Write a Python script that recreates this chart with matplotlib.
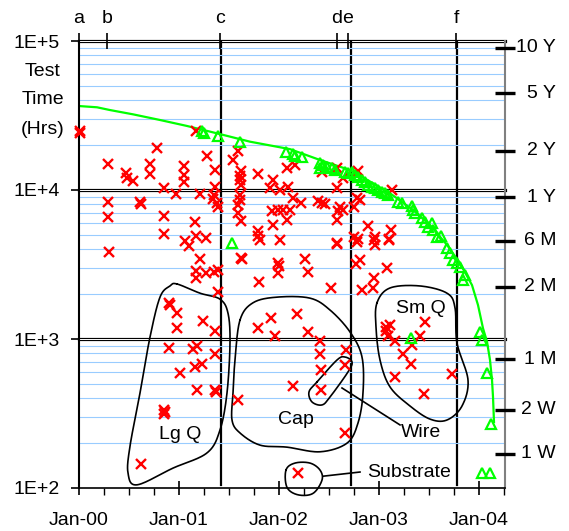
import numpy as np
import matplotlib
matplotlib.use('Agg')
import matplotlib.pyplot as plt
import matplotlib.transforms as mtransforms
from matplotlib.ticker import LogLocator, MultipleLocator, NullFormatter, NullLocator

plt.rcParams['font.family'] = ['Liberation Sans', 'DejaVu Sans']

# x values are years since Jan-00, y values are test hours

# failed parts (red x)
fail_years = [
  0.01, 0.01, 0.29, 0.47, 0.48, 0.54, 0.71, 0.71, 0.78, 0.85,
  0.97, 1.05, 1.05, 1.05, 1.17, 1.21, 1.28, 0.29, 0.61, 0.62,
  0.29, 0.85, 1.16, 0.85, 1.17, 1.27, 1.06, 1.10, 0.30, 1.21,
  1.36, 1.36, 1.35, 1.34, 1.38, 1.39, 1.59, 1.54, 1.62, 1.61,
  1.61, 1.62, 1.61, 1.61, 1.59, 1.59, 1.62, 1.79, 1.94, 1.91,
  2.01, 2.09, 2.08, 2.16, 2.14, 2.22, 2.39, 1.93, 1.99, 2.04,
  2.11, 1.94, 2.08, 1.79, 1.79, 1.81, 2.01, 1.17, 1.27, 1.17,
  1.35, 1.39, 1.39, 1.62, 1.63, 1.99, 2.00, 1.99, 1.80, 2.26,
  2.29, 2.52, 2.58, 2.78, 2.95, 2.96, 3.10, 2.81, 2.77, 3.08,
  2.95, 2.94, 2.83, 2.43, 2.58, 2.64, 2.79, 2.58, 2.43, 2.46,
  2.61, 2.64, 2.59, 2.58, 2.78, 2.81, 2.75, 2.89, 3.12, 2.96,
  3.10, 2.75, 2.79, 2.58, 3.13,
  0.90, 0.91, 0.98, 0.98, 1.24, 1.36, 0.90, 1.14, 1.18, 1.36,
  1.16, 1.23, 1.01, 1.18, 1.36, 1.37, 0.85, 0.86, 0.85, 0.62,
  1.79, 1.92, 1.96, 1.59, 2.18, 2.29, 2.41, 2.41, 2.42, 2.42,
  2.14, 2.67, 2.66, 2.66, 2.19,
  3.07, 3.11, 3.07, 3.09, 3.16, 3.46, 3.41, 3.33, 3.24, 3.32,
  3.16, 3.45, 3.73,
]
fail_hours = [
  24900, 24200, 14950, 12980, 12020, 11490, 14950, 12790, 19180, 10310,
  9400, 14490, 12590, 11320, 24900, 9400, 16910, 8310, 8310, 8060,
  6590, 6690, 6100, 5070, 4910, 4760, 4550, 4210, 3840, 3450,
  13600, 10470, 9260, 8700, 8180, 7690, 18270, 15900, 13390, 12400,
  11670, 10800, 9260, 8570, 7930, 7010, 6190, 12790, 11670, 10310,
  10000, 10470, 14050, 14720, 8840, 8180, 8440, 7230, 7340, 7340,
  7340, 5820, 6290, 5310, 4910, 4620, 4620, 2860, 2770, 2560,
  2810, 2900, 2070, 3500, 3440, 3240, 3090, 2770, 2410, 3450,
  2810, 2200, 4340, 4480, 4620, 4280, 4620, 3390, 3190, 3000,
  2560, 2200, 2130, 13190, 14050, 12020, 13390, 10310, 8180, 8060,
  7690, 7340, 7230, 6290, 8840, 8570, 7690, 5730, 5390, 4840,
  4690, 4840, 4690, 4410, 10000,
  1750, 1690, 1490, 1180, 1320, 1130, 870, 857, 898, 793,
  649, 680, 592, 455, 455, 441, 334, 324, 314, 145,
  1180, 1380, 1050, 390, 1470, 1115, 970, 793, 620, 455,
  484, 844, 669, 234, 126,
  1200, 1240, 1130, 1050, 970, 1300, 1050, 912, 793, 680,
  556, 428, 583,
]

# parts still on test (green triangles)
run_years = [
  1.23, 1.25, 1.39, 1.61, 1.53, 2.07, 2.14, 2.16, 2.23, 2.41,
  2.41, 2.44, 2.48, 2.53, 2.56, 2.66, 2.69, 2.73, 2.76, 2.79,
  2.83, 2.86, 2.89, 2.93, 2.96, 2.99, 3.03, 3.06, 3.09, 3.19,
  3.23, 3.33, 3.34, 3.36, 3.43, 3.46, 3.49, 3.53, 3.54, 3.58,
  3.62, 3.68, 3.71, 3.74, 3.78, 3.81, 3.86, 3.84, 4.01, 4.03,
  4.08, 4.12, 3.32, 4.03, 4.11,
]
run_hours = [
  24900, 24150, 23060, 21040, 4410, 17990, 17440, 16910, 16650, 15180,
  14050, 14720, 14270, 14050, 13600, 13190, 12980, 13190, 12590, 12210,
  11670, 11320, 10800, 10470, 10310, 10000, 9700, 9550, 9260, 8310,
  8180, 7810, 7340, 7010, 6490, 6100, 5650, 6000, 5390, 4840,
  4910, 4080, 3780, 3390, 3240, 3040, 2680, 2490, 1115, 985,
  592, 269, 1020, 126, 126,
]

# maximum possible test time (green line)
limit_years = [
  0.0, 0.18, 0.31, 0.54, 0.81, 1.08, 1.38, 1.71, 2.11, 2.41,
  2.71, 2.91, 3.11, 3.34, 3.51, 3.68, 3.81, 3.93, 3.99, 4.04,
  4.08, 4.11, 4.13, 4.14, 4.15,
]
limit_hours = [
  36600, 35900, 34400, 32200, 29500, 26900, 24000, 21100, 18800, 15900,
  13600, 11400, 9510, 7340, 5820, 4280, 3220, 2300, 1690, 1180,
  960, 723, 531, 410, 277,
]

event_labels = ['a', 'b', 'c', 'd', 'e', 'f']
event_years = [0.0, 0.28, 1.41, 2.58, 2.69, 3.77]
line_years = [1.42, 2.72, 3.78]

year_ticks = [0, 1, 2, 3, 4]
year_labels = ['Jan-00', 'Jan-01', 'Jan-02', 'Jan-03', 'Jan-04']
hour_ticks = [1e2, 1e3, 1e4, 1e5]
hour_labels = ['1E+2', '1E+3', '1E+4', '1E+5']
span_labels = ['10 Y', '5 Y', '2 Y', '1 Y', '6 M', '2 M', '1 M', '2 W', '1 W']
span_hours = [90000, 44600, 18300, 8930, 4550, 2240, 730, 336, 170]

# hand drawn groupings
groups = {
  'Lg Q': ([0.98, 1.21, 1.41, 1.49, 1.51, 1.48, 1.41, 1.28, 0.94, 0.58, 0.49, 0.51, 0.61, 0.71, 0.81, 0.91],
           [2340, 2030, 1850, 1490, 940, 434, 245, 172, 136, 105, 126, 191, 434, 1030, 1910, 2270]),
  'Cap': ([1.61, 1.74, 1.98, 2.31, 2.51, 2.71, 2.83, 2.84, 2.79, 2.68, 2.41, 2.08, 1.81, 1.61, 1.53, 1.54, 1.56],
          [1340, 1750, 1910, 1880, 1565, 1115, 757, 434, 273, 200, 175, 188, 194, 234, 286, 434, 723]),
  'Sm Q': ([2.98, 3.11, 3.41, 3.68, 3.76, 3.78, 3.89, 3.83, 3.68, 3.51, 3.31, 3.11, 3.01, 2.97],
           [1750, 2200, 2270, 2030, 1620, 940, 531, 355, 286, 290, 355, 477, 723, 1200]),
  'Wire': ([2.38, 2.58, 2.66, 2.73, 2.69, 2.51, 2.43, 2.33, 2.30],
           [515, 723, 757, 701, 601, 408, 361, 378, 441]),
  'Substrate': ([2.07, 2.16, 2.31, 2.41, 2.43, 2.34, 2.19, 2.08],
                [132, 147, 147, 132, 113, 92, 90, 101]),
}
group_text = {
  'Lg Q': (1.01, 227),
  'Cap': (2.17, 290),
  'Sm Q': (3.42, 1590),
  'Wire': (3.42, 234),
  'Substrate': (3.30, 128),
}
leaders = {
  'Wire': ([2.63, 3.21], [469, 265]),
  'Substrate': ([2.44, 2.81], [120, 128]),
}


def smooth_loop(xs, ys, n=24):
  ''' Closed Catmull-Rom curve through the outline points '''
  pts = np.column_stack([xs, ys])
  m = len(pts)
  t = np.linspace(0, 1, n, endpoint=False)[:, None]
  out = []
  for i in range(m):
    p0, p1, p2, p3 = pts[i - 1], pts[i], pts[(i + 1) % m], pts[(i + 2) % m]
    out.append(0.5 * (2 * p1 + (p2 - p0) * t
                      + (2 * p0 - 5 * p1 + 4 * p2 - p3) * t ** 2
                      + (3 * p1 - p0 - 3 * p2 + p3) * t ** 3))
  out.append(pts[:1])
  return np.vstack(out)


def main():
  fig = plt.figure(figsize=(5.69, 5.31), dpi=100)
  ax = fig.add_axes([79 / 569, 43 / 531, 426 / 569, 447 / 531])

  ax.set_yscale('log')
  ax.set_xlim(0, 4.26)
  ax.set_ylim(100, 1e5)

  # light blue minor grid
  ax.yaxis.set_minor_locator(LogLocator(base=10, subs=np.arange(2, 10)))
  ax.yaxis.set_minor_formatter(NullFormatter())
  ax.grid(which='minor', axis='y', color='#99ccff', lw=0.8, zorder=0)
  ax.tick_params(axis='y', which='minor', length=0)

  # double black lines at the decades
  for h in hour_ticks[1:]:
    ax.axhline(h, color='black', lw=2.3, zorder=1, clip_on=False)
    ax.axhline(h, color='white', lw=0.7, zorder=1, clip_on=False)

  for x in line_years:
    ax.axvline(x, ymin=0.007, color='black', lw=1.6, zorder=1)

  ax.plot(limit_years, limit_hours, color='#00ff00', lw=1.6, zorder=2)
  ax.plot(fail_years, fail_hours, ls='none', marker='x', ms=7.5, mew=1.7,
          color='#ff0000', zorder=3, clip_on=False)
  ax.plot(run_years, run_hours, ls='none', marker='^', ms=7, mew=1.6,
          mfc='none', mec='#00ff00', zorder=3, clip_on=False)

  for name, (gx, gy) in groups.items():
    loop = smooth_loop(gx, np.log10(gy))
    ax.plot(loop[:, 0], 10 ** loop[:, 1], color='black', lw=1.2, zorder=2,
            clip_on=False)
    tx, ty = group_text[name]
    ax.text(tx, ty, name, fontsize=14, ha='center', va='center', zorder=4)
  for name, (lx, ly) in leaders.items():
    ax.plot(lx, ly, color='black', lw=1.2, zorder=2)

  # axes frame
  ax.spines['top'].set_visible(False)
  ax.spines['left'].set_linewidth(1.5)
  ax.spines['bottom'].set_linewidth(1.2)
  ax.spines['right'].set_color('#808080')
  ax.spines['right'].set_linewidth(1.5)

  ax.set_xticks(year_ticks)
  ax.set_xticklabels(year_labels)
  ax.xaxis.set_minor_locator(MultipleLocator(0.25))
  ax.tick_params(axis='x', which='major', direction='inout', length=10,
                 width=1.2, labelsize=14, pad=12)
  ax.tick_params(axis='x', which='minor', direction='out', length=5, width=1)

  ax.set_yticks(hour_ticks)
  ax.set_yticklabels(hour_labels)
  ax.tick_params(axis='y', which='major', direction='out', length=6,
                 width=1.2, labelsize=14, pad=8)

  # event letters on top
  top = ax.twiny()
  top.set_xlim(ax.get_xlim())
  top.set_xticks(event_years)
  top.set_xticklabels(event_labels)
  top.xaxis.set_minor_locator(NullLocator())
  top.tick_params(axis='x', direction='inout', length=12, width=1.2,
                  labelsize=14, pad=4)
  for s in top.spines.values():
    s.set_visible(False)

  # time spans on the right
  right = ax.twinx()
  right.set_yscale('log')
  right.set_ylim(ax.get_ylim())
  right.set_yticks(span_hours)
  right.yaxis.set_minor_locator(NullLocator())
  right.tick_params(axis='y', direction='inout', length=14, width=2.4,
                    labelright=False)
  for s in right.spines.values():
    s.set_visible(False)
  trans = mtransforms.blended_transform_factory(ax.transAxes, ax.transData)
  for h, lab in zip(span_hours, span_labels):
    ax.text(1.12, h, lab, transform=trans, fontsize=14, ha='right', va='center')

  for y, word in zip([71, 99, 130], ['Test', 'Time', '(Hrs)']):
    fig.text(43 / 569, 1 - y / 531, word, fontsize=14, ha='center', va='center')

  fig.savefig('out.png', dpi=100)


if __name__ == '__main__':
  main()
